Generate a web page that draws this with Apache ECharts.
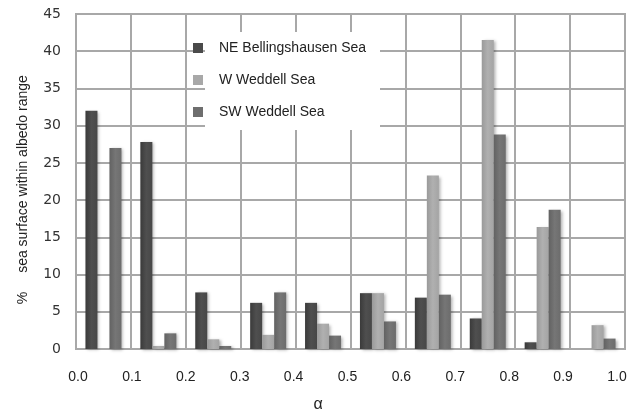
<!DOCTYPE html>
<html>
<head>
<meta charset="utf-8">
<script src="https://cdn.jsdelivr.net/npm/echarts@6/dist/echarts.min.js"></script>
<style>
html,body{margin:0;padding:0;background:#fff;}
#chart{width:639px;height:411px;}
</style>
</head>
<body>
<div id="chart"></div>
<script>
// Albedo bins (0.1 wide) from 0.0 to 1.0
var categories = ['0.0-0.1','0.1-0.2','0.2-0.3','0.3-0.4','0.4-0.5','0.5-0.6','0.6-0.7','0.7-0.8','0.8-0.9','0.9-1.0'];
var seriesNames = ['NE Bellingshausen Sea', 'W Weddell Sea', 'SW Weddell Sea'];
var neBellingshausen = [32.0, 27.8, 7.6, 6.2, 6.2, 7.5, 6.9, 4.1, 0.9, 0.0];
var wWeddell         = [0.0, 0.4, 1.3, 1.9, 3.4, 7.5, 23.3, 41.5, 16.4, 3.2];
var swWeddell        = [27.0, 2.1, 0.4, 7.6, 1.8, 3.7, 7.3, 28.8, 18.7, 1.4];
var xTickLabels = ['0.0','0.1','0.2','0.3','0.4','0.5','0.6','0.7','0.8','0.9','1.0'];
var yMin = 0, yMax = 45, yStep = 5;

function grad(c1, c2, c3) {
  return new echarts.graphic.LinearGradient(0, 0, 1, 0, [
    {offset: 0, color: c1}, {offset: 0.5, color: c2}, {offset: 1, color: c3}
  ]);
}
var colors = [
  grad('#3a3a3a', '#4f4f4f', '#474747'),
  grad('#9a9a9a', '#b0b0b0', '#a4a4a4'),
  grad('#626262', '#767676', '#6c6c6c')
];
var solid = ['#4a4a4a', '#a8a8a8', '#6e6e6e'];
var dataSets = [neBellingshausen, wWeddell, swWeddell];

var gridColor = '#a8a8a8';
var chart = echarts.init(document.getElementById('chart'), null, {renderer: 'canvas'});
var series = dataSets.map(function (d, i) {
  return {
    name: seriesNames[i],
    type: 'bar',
    xAxisIndex: 0, yAxisIndex: 0,
    data: d,
    barWidth: 12,
    barGap: '0%',
    z: 3,
    itemStyle: {
      color: colors[i],
      shadowBlur: 3,
      shadowColor: 'rgba(0,0,0,0.3)',
      shadowOffsetX: 2,
      shadowOffsetY: 1
    }
  };
});

chart.setOption({
  backgroundColor: '#ffffff',
  animation: false,
  grid: [
    {left: 76, top: 14, width: 549, height: 335, show: true, borderColor: gridColor, borderWidth: 2, backgroundColor: 'transparent'},
    {left: 78, top: 14, width: 539, height: 335, show: false}
  ],
  legend: {
    orient: 'vertical',
    left: 193, top: 41,
    padding: 0,
    itemWidth: 10, itemHeight: 10,
    itemGap: 18,
    icon: 'rect',
    data: seriesNames.map(function (n, i) { return {name: n, itemStyle: {color: solid[i]}}; }),
    textStyle: {fontFamily: 'Liberation Sans', fontSize: 14, color: '#222', padding: [0, 0, 0, 11]},
    z: 6
  },
  xAxis: [
    {
      type: 'category', gridIndex: 0, data: categories,
      boundaryGap: true,
      axisLine: {show: true, lineStyle: {color: gridColor, width: 2}},
      axisTick: {show: false},
      axisLabel: {show: false},
      splitLine: {show: true, lineStyle: {color: gridColor, width: 2}}
    },
    {
      type: 'value', gridIndex: 1, min: 0, max: 1, interval: 0.1,
      axisLine: {show: false}, axisTick: {show: false}, splitLine: {show: false},
      axisLabel: {
        margin: 21,
        fontFamily: 'Liberation Sans', fontSize: 14, color: '#222',
        formatter: function (v) {
          var idx = Math.round(v * 10);
          return xTickLabels[idx] !== undefined ? xTickLabels[idx] : '';
        }
      }
    }
  ],
  yAxis: [
    {
      type: 'value', gridIndex: 0, min: yMin, max: yMax, interval: yStep,
      axisLine: {show: true, lineStyle: {color: gridColor, width: 2}},
      axisTick: {show: false},
      axisLabel: {margin: 15, fontFamily: 'DejaVu Sans', fontSize: 14, color: '#333'},
      splitLine: {show: true, lineStyle: {color: gridColor, width: 2}}
    },
    {
      type: 'value', gridIndex: 1, min: yMin, max: yMax, show: false
    }
  ],
  graphic: [
    {
      type: 'rect', z: 1, silent: true,
      shape: {x: 205, y: 32, width: 175, height: 98},
      style: {fill: '#ffffff'}
    },
    {
      type: 'text', z: 5, silent: true,
      x: 318, y: 405,
      style: {text: 'α', font: '16px "Liberation Sans"', fill: '#222', textAlign: 'center', textVerticalAlign: 'middle'}
    },
    {
      type: 'text', z: 5, silent: true,
      x: 23, y: 174, rotation: Math.PI / 2,
      style: {text: 'sea surface within albedo range', font: '14px "Liberation Sans"', fill: '#222', textAlign: 'center', textVerticalAlign: 'middle'}
    },
    {
      type: 'text', z: 5, silent: true,
      x: 23, y: 298, rotation: Math.PI / 2,
      style: {text: '%', font: '14px "Liberation Sans"', fill: '#222', textAlign: 'center', textVerticalAlign: 'middle'}
    }
  ],
  series: series
});
</script>
</body>
</html>
